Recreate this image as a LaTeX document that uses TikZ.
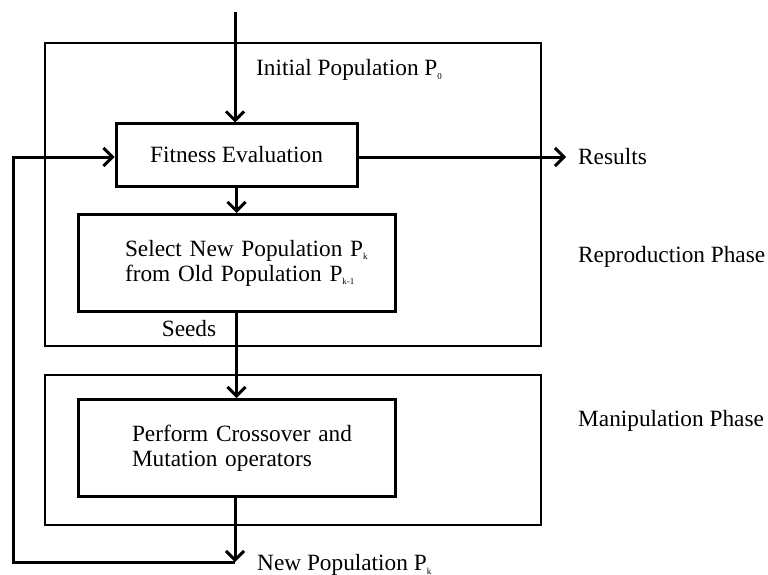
\documentclass[tikz,border=0pt]{standalone}
\usepackage{fontspec}
\setmainfont{Liberation Serif}
\usetikzlibrary{arrows.meta,positioning,calc}

\newcommand{\lowidx}[1]{\raisebox{-0.35ex}{\fontsize{9}{9}\selectfont #1}}

\tikzset{
  stepbox/.style={draw, line width=3pt, minimum width=317pt, minimum height=97pt,
    text width=317pt-2*#1, inner xsep=#1, inner ysep=0pt, align=left},
  phase/.style={draw, line width=1.5pt},
  lbl/.style={inner sep=0pt, anchor=west},
  flow/.style={line width=3pt, -{Straight Barb[length=9pt,width=18pt,line width=3pt]}}
}

\begin{document}
\begin{tikzpicture}[x=1pt, y=-1pt, font=\fontsize{23.3}{25}\selectfont]
    \useasboundingbox (0,0) rectangle (768,575);

    % phase frames
    \draw[phase] (45,43) rectangle (541,346);
    \draw[phase] (45,375) rectangle (541,525);

    % steps
    \node (fit) [draw, line width=3pt, minimum width=241pt, minimum height=62pt, inner sep=0pt] at (236.5,155) {Fitness Evaluation};
    \node (sel) [stepbox=47pt] at (236.5,263) {\mbox{Select New Population P\lowidx{k}}\\\mbox{from Old Population P\lowidx{k-1}}};
    \node (perf) [stepbox=54pt] at (236.5,448) {\mbox{Perform Crossover and}\\\mbox{Mutation operators}};

    % labels
    \node (init) [lbl] at (256,70) {Initial Population P\lowidx{0}};
    \node (results) [lbl] at (578,157) {Results};
    \node (repro) [lbl] at (578,257) {Reproduction Phase};
    \node (manip) [lbl] at (578,421) {Manipulation Phase};
    \node (seeds) [inner sep=0pt] at (189,329) {Seeds};
    \node (newpop) [lbl] at (257,565) {New Population P\lowidx{k}};

    \coordinate (start) at (235,12);
    \coordinate (out) at (566,157);
    \coordinate (np) at (235,562);
    \coordinate (corner) at (13,562);

    % connectors
    \draw[flow] (start) -- (start |- fit.north);
    \draw[flow] (fit) -- (sel);
    \draw[flow] (sel) -- (perf);
    \draw[flow] (fit.east |- out) -- (out);
    \draw[flow] (perf.south -| np) -- (np);
    \draw[flow] (np) -- (corner) |- (fit.west |- out);
\end{tikzpicture}
\end{document}
